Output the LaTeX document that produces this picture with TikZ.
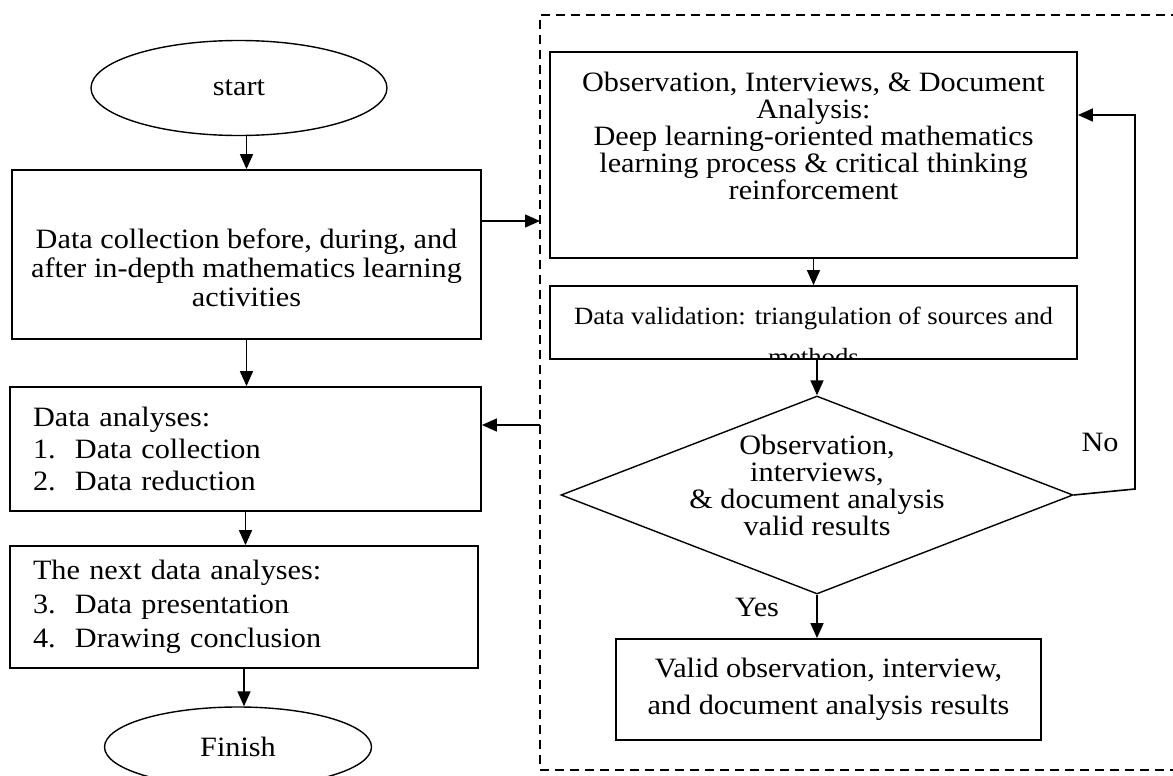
\documentclass[tikz,border=0pt]{standalone}
\usepackage{fontspec}
\setmainfont{Liberation Serif}[FakeStretch=1.08]
\usetikzlibrary{shapes.geometric, arrows.meta}

\begin{document}
\begin{tikzpicture}[x=0.5pt, y=-0.5pt,
  box/.style={draw, rectangle, line width=0.9pt, inner sep=0pt},
  oval/.style={draw, ellipse, line width=0.7pt, inner sep=0pt},
  txt/.style={font=\fontsize{14}{13.5}\selectfont, align=center, inner sep=0pt},
  flow/.style={-{Triangle[length=7.5pt,width=6.5pt]}, line width=0.8pt}]
  \useasboundingbox (0,0) rectangle (1173,776);

  % left column
  \node[oval, txt, minimum width=148pt, minimum height=47.5pt] (start) at (239,88) {start};
  \node[box, minimum width=234.5pt, minimum height=84.5pt] (collect) at (246.5,254.5) {};
  \node[txt, font=\fontsize{14}{14.5}\selectfont] (collecttxt) at (246.5,268)
    {Data collection before, during, and\\after in-depth mathematics learning\\activities};
  \node[box, minimum height=62pt, text width=212.5pt, inner xsep=11.5pt, align=left,
    font=\fontsize{14}{16}\selectfont] (anal1) at (245.5,449)
    {Data analyses:\\\makebox[21pt][l]{1.}Data collection\\\makebox[21pt][l]{2.}Data reduction};
  \node[box, minimum height=61pt, text width=211pt, inner xsep=11.5pt, align=left,
    font=\fontsize{14}{17}\selectfont] (anal2) at (244,607)
    {The next data analyses:\\\makebox[21pt][l]{3.}Data presentation\\\makebox[21pt][l]{4.}Drawing conclusion};
  \node[oval, txt, minimum width=133.5pt, minimum height=40pt] (finish) at (238,747) {Finish};

  % right column
  \node[box, minimum width=263.5pt, minimum height=103pt] (obs) at (813.5,155) {};
  \node[txt] (obstxt) at (813.5,136)
    {Observation, Interviews, \& Document\\Analysis:\\Deep learning-oriented mathematics\\learning process \& critical thinking\\reinforcement};
  \node[box, minimum width=263.5pt, minimum height=36.5pt] (valid) at (813.5,322.5) {};
  \begin{scope}
    \clip (valid.south west) rectangle (valid.north east);
    \node[txt, font=\fontsize{12.4}{20.5}\selectfont, anchor=north] (validtxt) at (813.5,307)
      {Data validation: triangulation of sources and\\methods};
  \end{scope}
  \node[draw, diamond, line width=0.7pt, minimum width=256pt, minimum height=99pt,
    inner sep=0pt] (dec) at (817,495) {};
  \node[txt] (dectxt) at (817,485)
    {Observation,\\interviews,\\\& document analysis\\valid results};
  \node[box, txt, minimum width=212.5pt, minimum height=50.5pt,
    font=\fontsize{14}{18.5}\selectfont] (final) at (828.5,689.5)
    {Valid observation, interview,\\and document analysis results};
  \node[txt] (yes) at (757,607) {Yes};
  \node[txt] (no) at (1100,442) {No};

  % dashed frame
  \draw[line width=0.7pt, dash pattern=on 4.5pt off 3pt]
    (1180,15) -- (540,15) -- (540,770) -- (1180,770);
  \coordinate (bin) at (540,221);
  \coordinate (bout) at (540,425);
  \coordinate (nocorner) at (1135,489);

  \draw[flow] (start.south -| collect.north) -- (collect.north);
  \draw[flow] (collect.south) -- (collect.south |- anal1.north);
  \draw[flow] (anal1.south) -- (anal1.south |- anal2.north);
  \draw[flow] (anal2.south) -- (anal2.south |- finish.north);
  \draw[flow] (collect.east |- bin) -- (bin);
  \draw[flow] (bout) -- (anal1.east |- bout);
  \draw[flow] (obs.south) -- (obs.south |- valid.north);
  \draw[flow] (valid.south -| dec.north) -- (dec.north);
  \draw[flow] (dec.south) -- (dec.south |- final.north);
  \draw[flow] (dec.east) -- (nocorner) |- ([yshift=20pt]obs.east);
\end{tikzpicture}
\end{document}
